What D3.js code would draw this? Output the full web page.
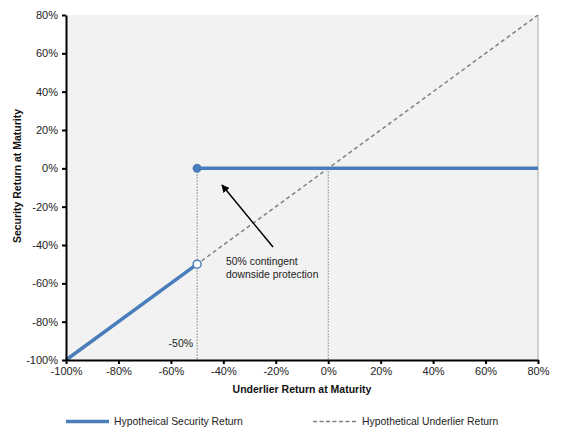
<!DOCTYPE html>
<html><head><meta charset="utf-8">
<script src="https://cdn.jsdelivr.net/npm/d3@7"></script>
<style>
body{margin:0;background:#fff;}
text{font-family:"Liberation Sans",Arial,sans-serif;}
</style></head>
<body><svg id="c" width="562" height="435"></svg>
<script>
const xTicks = [-100,-80,-60,-40,-20,0,20,40,60,80];
const yTicks = [-100,-80,-60,-40,-20,0,20,40,60,80];
const securityDown = [[-100,-100],[-50,-50]];
const securityFlat = [[-50,0],[80,0]];
const underlier = [[-100,-100],[80,80]];
const barrier = -50;
const guides = [[-50,0],[0,0]];
const fmt = d => d + "%";

const svg = d3.select("#c");
const L=66,R=538,T=15,B=360;
const x = d3.scaleLinear().domain([-100,80]).range([L,R]);
const y = d3.scaleLinear().domain([-100,80]).range([B,T]);
const blue = "#4a7ebb";

svg.append("rect").attr("x",L).attr("y",T).attr("width",R-L).attr("height",B-T).attr("fill","#f2f2f2");
svg.append("line").attr("x1",R).attr("x2",R).attr("y1",T).attr("y2",B).attr("stroke","#a6a6a6").attr("stroke-width",1);

// guides
guides.forEach(g=>{
  svg.append("line").attr("x1",x(g[0])).attr("x2",x(g[0])).attr("y1",y(g[1])).attr("y2",B)
    .attr("stroke","#808080").attr("stroke-width",1).attr("stroke-dasharray","1.5,1.5");
});

const line = d3.line().x(d=>x(d[0])).y(d=>y(d[1]));
svg.append("path").datum(underlier).attr("d",line).attr("fill","none")
  .attr("stroke","#808080").attr("stroke-width",1.5).attr("stroke-dasharray","4,3");
svg.append("path").datum(securityDown).attr("d",line).attr("fill","none")
  .attr("stroke",blue).attr("stroke-width",3.5);
svg.append("path").datum(securityFlat).attr("d",line).attr("fill","none")
  .attr("stroke",blue).attr("stroke-width",3.5);
svg.append("circle").attr("cx",x(securityDown[1][0])).attr("cy",y(securityDown[1][1])).attr("r",4)
  .attr("fill","#fff").attr("stroke",blue).attr("stroke-width",1.5);
svg.append("circle").attr("cx",x(securityFlat[0][0])).attr("cy",y(securityFlat[0][1])).attr("r",4.5)
  .attr("fill",blue);

// axes
const xa = svg.append("g").attr("transform",`translate(0,${B})`)
  .call(d3.axisBottom(x).tickValues(xTicks).tickFormat(fmt).tickSize(4).tickSizeOuter(0));
const ya = svg.append("g").attr("transform",`translate(${L},0)`)
  .call(d3.axisLeft(y).tickValues(yTicks).tickFormat(fmt).tickSize(4).tickSizeOuter(0));
[xa,ya].forEach(a=>{
  a.select(".domain").attr("stroke","#000").attr("stroke-width",2);
  a.selectAll(".tick line").attr("stroke","#000").attr("stroke-width",2);
  a.selectAll(".tick text").attr("font-size",11).attr("fill","#222")
   .attr("font-family","'Liberation Sans',Arial,sans-serif");
});
xa.selectAll(".tick text").attr("dy","0.85em").attr("y",6);
ya.selectAll(".tick text").attr("x",-8);

// titles
svg.append("text").attr("x",302).attr("y",393).attr("text-anchor","middle")
  .attr("font-size",10.5).attr("font-weight","bold").attr("fill","#111").text("Underlier Return at Maturity");
svg.append("text").attr("transform","translate(21,176) rotate(-90)").attr("text-anchor","middle")
  .attr("font-size",10.5).attr("font-weight","bold").attr("fill","#111").text("Security Return at Maturity");

// annotation
svg.append("defs").append("marker").attr("id","ah").attr("viewBox","0 0 10 10").attr("refX",9).attr("refY",5)
  .attr("markerWidth",8).attr("markerHeight",8).attr("markerUnits","userSpaceOnUse").attr("orient","auto")
  .append("path").attr("d","M0,0 L10,5 L0,10 z").attr("fill","#000");
svg.append("line").attr("x1",273).attr("y1",247).attr("x2",222).attr("y2",185)
  .attr("stroke","#000").attr("stroke-width",1.5).attr("marker-end","url(#ah)");
svg.append("text").attr("x",226).attr("y",265).attr("font-size",10.4).attr("fill","#222").text("50% contingent");
svg.append("text").attr("x",226).attr("y",278).attr("font-size",10.4).attr("fill","#222").text("downside protection");
svg.append("text").attr("x",x(barrier)-4).attr("y",347).attr("text-anchor","end").attr("font-size",10.5).attr("fill","#222").text(fmt(barrier));

// legend
svg.append("line").attr("x1",66).attr("x2",109).attr("y1",421.5).attr("y2",421.5).attr("stroke",blue).attr("stroke-width",3.5);
svg.append("text").attr("x",114).attr("y",425).attr("font-size",10.4).attr("fill","#222").text("Hypotheical Security Return");
svg.append("line").attr("x1",313).attr("x2",357).attr("y1",421.5).attr("y2",421.5).attr("stroke","#808080").attr("stroke-width",1.5).attr("stroke-dasharray","4,2.5");
svg.append("text").attr("x",362).attr("y",425).attr("font-size",10.4).attr("fill","#222").text("Hypothetical Underlier Return");
</script></body></html>
